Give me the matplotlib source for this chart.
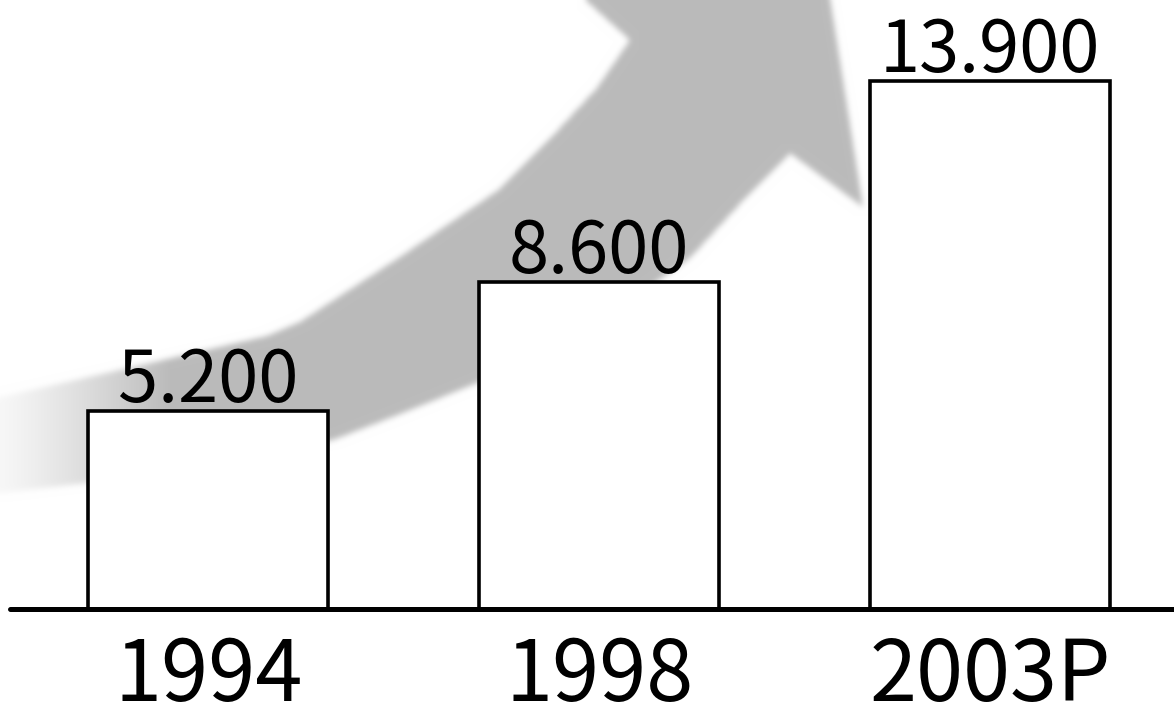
import numpy as np
import matplotlib
matplotlib.use('Agg')
import matplotlib.pyplot as plt
from matplotlib.path import Path

plt.rcParams['font.family'] = ['Noto Sans CJK KR', 'DejaVu Sans']
plt.rcParams['font.weight'] = 300

years = ['1994', '1998', '2003P']
values = [5200, 8600, 13900]
value_labels = [f'{v:,}'.replace(',', '.') for v in values]

W, H = 1174, 706

# decorative background arrow, outline traced in pixel coords (y down)
upper_edge = [(-20, 402), (0, 397), (133, 367), (267, 336), (300, 322), (400, 257),
              (500, 189), (560, 128), (597, 88), (630, 40)]
head = [(572, -12), (821, -59), (863, 207), (790, 153)]
lower_edge = [(750, 193), (690, 258), (600, 322), (477, 383), (400, 414),
              (333, 440), (87, 483), (0, 493), (-20, 496)]
outline = upper_edge + head + lower_edge


def gauss_blur(img, sigma):
    r = int(3 * sigma)
    k = np.exp(-0.5 * (np.arange(-r, r + 1) / sigma) ** 2)
    k /= k.sum()
    p = np.pad(img, r, mode='edge')
    p = np.array([np.convolve(row, k, mode='valid') for row in p])
    p = np.array([np.convolve(col, k, mode='valid') for col in p.T]).T
    return p


xx, yy = np.meshgrid(np.arange(W) + 0.5, np.arange(H) + 0.5)
inside = Path(outline).contains_points(np.c_[xx.ravel(), yy.ravel()]).reshape(H, W)
alpha = gauss_blur(inside.astype(float), 3.0)
alpha *= 0.12 + 0.88 * np.clip(xx / 170, 0, 1) ** 1.2  # arrow fades out at the left
shade = 1 - alpha * (1 - 187 / 255)
bg = np.dstack([shade] * 3)

fig = plt.figure(figsize=(W / 100, H / 100), dpi=100)
bg_ax = fig.add_axes([0, 0, 1, 1])
bg_ax.imshow(bg, extent=(0, W, H, 0), interpolation='nearest', aspect='auto')
bg_ax.axis('off')

base_px = 609
ax = fig.add_axes([10 / W, (H - base_px) / H, 1 - 10 / W, base_px / H])
ax.patch.set_alpha(0)

x = np.arange(len(years))
ax.bar(x, values, width=0.615, color='white', edgecolor='black', linewidth=2.6)
ax.set_xlim(-0.5074, 2.4708)
ax.set_ylim(0, base_px / 0.038)

for xi, v, lab in zip(x, values, value_labels):
    ax.annotate(lab, (xi, v), xytext=(0, 6.5), textcoords='offset points',
                ha='center', va='baseline', fontsize=52)

ax.set_xticks(x, years, fontsize=61)
ax.tick_params(axis='x', length=0, pad=17.5)
ax.set_yticks([])
for s in ['left', 'right', 'top']:
    ax.spines[s].set_visible(False)
ax.spines['bottom'].set_linewidth(3.6)
ax.spines['bottom'].set_capstyle('round')

fig.savefig('out.png', dpi=100)
